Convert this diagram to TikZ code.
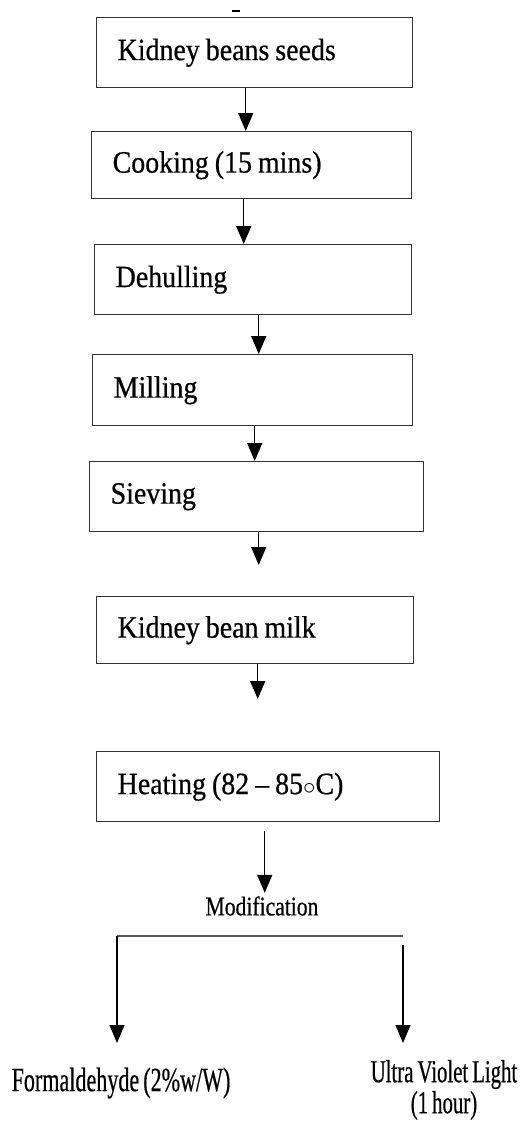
\documentclass[tikz,border=0pt]{standalone}
\usepackage{fontspec}
\setmainfont{Liberation Serif}
\newfontfamily\boxfont[FakeStretch=0.9, FakeBold=0.6, Ligatures=TeX]{Liberation Serif}
\newfontfamily\modfont[FakeStretch=0.8, FakeBold=0.5]{Liberation Serif}
\newfontfamily\leaffont[FakeStretch=0.65, FakeBold=0.5]{Liberation Serif}
\newcommand\tightspace{\fontdimen2\font=4pt\relax}
\newcommand\boxspace{\fontdimen2\font=6pt\relax}
\usetikzlibrary{arrows.meta, positioning}
\tikzset{
    x=1pt, y=-1pt, % one unit is one pixel of the reference, y grows downwards
    stepbox/.style={
        rectangle, draw=black!80, line width=1.4pt, text width=#1,
        align=flush left, inner xsep=21pt, anchor=north west,
        font={\boxfont\fontsize{31}{36}\selectfont\boxspace},
    },
    flow/.style={-{Triangle[width=15pt,length=18pt]}, line width=1.5pt},
    splitline/.style={line width=2.4pt, draw=black!65},
}

\begin{document}
\begin{tikzpicture}
        \useasboundingbox (0,0) rectangle (527,1124);
        % Nodes
        \node[stepbox=274, minimum height=70pt] (B1) at (96,17) {Kidney beans seeds};
        \node[stepbox=278, minimum height=67pt] (B2) at (91,131) {Cooking (15 mins)};
        \node[stepbox=275, minimum height=70pt] (B3) at (94,244) {Dehulling};
        \node[stepbox=278, minimum height=71pt] (B4) at (92,354) {Milling};
        \node[stepbox=292, minimum height=70pt] (B5) at (89,461) {Sieving};
        \node[stepbox=275, minimum height=67pt] (B6) at (96,596) {Kidney bean milk};
        \node[stepbox=301, minimum height=70pt] (B7) at (96,751) {Heating (82 – 85$\circ$C)};

        \node[font=\modfont\fontsize{27}{30}\selectfont] (mod) at (262,906) {Modification};
        \node[font={\leaffont\fontsize{34}{36}\selectfont\tightspace}] (form) at (121,1083) {Formaldehyde (2\%w/W)};
        \node[font={\leaffont\fontsize{32}{31}\selectfont\tightspace}, align=center] (uv) at (444,1090) {Ultra Violet Light\\(1 hour)};

        \coordinate (L) at (117,936);
        \coordinate (R) at (403,936);
        \coordinate (tipL) at (117,1043);
        \coordinate (tipR) at (403,1043);

        % Draw lines
        \draw[line width=1.4pt] (232,11) -- (240,11);
        \draw[flow] ([xshift=-9pt]B1.south) -- ([xshift=-9pt]B1.south |- B2.north);
        \draw[flow] ([xshift=-8pt]B2.south) -- ([xshift=-8pt]B2.south |- B3.north);
        \draw[flow] ([xshift=5.5pt]B3.south) -- ([xshift=5.5pt]B3.south |- B4.north);
        \draw[flow] ([xshift=2pt]B4.south) -- ([xshift=2pt]B4.south |- B5.north);
        \draw[flow, shorten >=31pt] ([xshift=2pt]B5.south) -- ([xshift=2pt]B5.south |- B6.north);
        \draw[flow, shorten >=52pt] ([xshift=2.5pt]B6.south) -- ([xshift=2.5pt]B6.south |- B7.north);
        \draw[flow, shorten <=9pt] ([xshift=-3.5pt]B7.south) -- ([xshift=-3.5pt]B7.south |- mod.north);

        \draw[splitline] (L) -- (R);
        \draw[flow] (L) -- (tipL);
        \draw[flow] ([yshift=-9pt]R) -- (tipR);
    \end{tikzpicture}
\end{document}
